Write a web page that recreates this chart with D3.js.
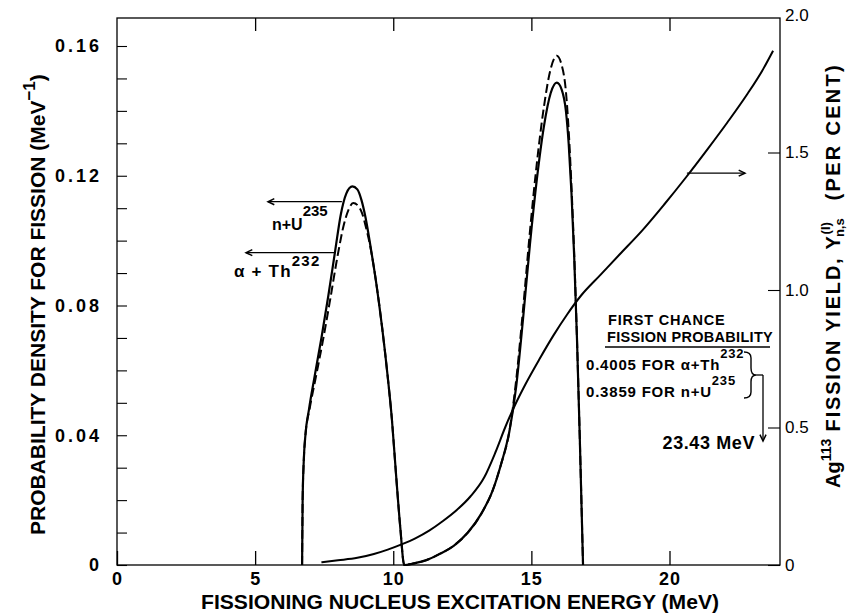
<!DOCTYPE html>
<html><head><meta charset="utf-8">
<script src="https://cdn.jsdelivr.net/npm/d3@7"></script>
<style>
body{margin:0;background:#fff}
text{font-family:"Liberation Sans",Arial,sans-serif;fill:#000}
</style>
</head><body><svg id="c" width="850" height="615"></svg>
<script>
// ---- data ----
const xTickValues = [0, 5, 10, 15, 20];
const leftTickLabels = [0, 0.04, 0.08, 0.12, 0.16];
const leftMinorTicks = [0,0.01,0.02,0.03,0.04,0.05,0.06,0.07,0.08,0.09,0.10,0.11,0.12,0.13,0.14,0.15,0.16];
const rightTickValues = [0, 0.5, 1.0, 1.5, 2.0];

// n + U235 (solid), probability density (MeV^-1)
const nU235_E = [6.70,6.72,6.76,6.82,6.95,7.15,7.40,7.65,7.90,8.10,8.30,8.52,8.70,8.85,9.00,9.20,9.40,9.60,9.80,9.95,10.10,10.25,10.40,
  10.70,11.20,11.70,12.20,12.70,13.20,13.60,13.90,14.20,14.45,14.70,14.95,15.20,15.45,15.70,15.92,16.10,16.25,16.35,16.45,16.55,16.65,16.75,16.87];
const nU235_P = [0,0.020,0.032,0.040,0.048,0.058,0.070,0.083,0.097,0.108,0.1145,0.1167,0.1158,0.1125,0.107,0.097,0.086,0.073,0.058,0.045,0.028,0.012,0,
  0.0004,0.0015,0.0035,0.006,0.010,0.016,0.023,0.031,0.041,0.055,0.076,0.099,0.119,0.135,0.1455,0.1487,0.1465,0.140,0.130,0.115,0.095,0.070,0.040,0];

// alpha + Th232 (dashed)
const aTh232_E = [6.70,6.72,6.76,6.82,6.97,7.20,7.45,7.72,8.00,8.20,8.38,8.55,8.72,8.87,9.00,9.15,9.40,9.60,9.80,9.95,10.10,10.25,10.40,
  10.70,11.20,11.70,12.20,12.70,13.20,13.60,13.90,14.20,14.45,14.70,14.95,15.20,15.45,15.70,15.92,16.10,16.25,16.35,16.45,16.55,16.65,16.75,16.87];
const aTh232_P = [0,0.020,0.032,0.040,0.048,0.058,0.069,0.082,0.096,0.1045,0.1095,0.1116,0.1108,0.1085,0.1045,0.099,0.086,0.073,0.058,0.045,0.028,0.012,0,
  0.0004,0.0015,0.0035,0.006,0.010,0.016,0.023,0.031,0.041,0.057,0.079,0.103,0.124,0.141,0.153,0.157,0.154,0.146,0.134,0.117,0.096,0.070,0.040,0];

// Ag113 fission yield (per cent), right axis
const yield_E = [7.40,8.00,8.70,9.30,9.80,10.30,10.80,11.30,11.80,12.30,12.80,13.30,13.70,14.05,14.40,14.80,15.30,15.80,16.30,16.80,17.50,18.20,19.00,19.80,20.60,21.40,22.10,22.80,23.40,23.75];
const yield_Y = [0.010,0.017,0.026,0.040,0.056,0.075,0.097,0.125,0.160,0.200,0.250,0.320,0.410,0.500,0.580,0.660,0.750,0.835,0.912,0.980,1.055,1.130,1.215,1.310,1.410,1.515,1.610,1.710,1.805,1.870];

// ---- scales ----
const svg = d3.select("#c");
const X0 = 117, X1 = 780, Y0 = 565, YT = 18;
const x = d3.scaleLinear().domain([0, 24]).range([X0, X1]);
const yL = d3.scaleLinear().domain([0, 0.16]).range([Y0, 46]);
const yR = d3.scaleLinear().domain([0, 2]).range([Y0, 15]);
const FONT = "'Liberation Sans',Arial,sans-serif";

// frame
svg.append("rect").attr("x", X0).attr("y", YT).attr("width", X1 - X0).attr("height", Y0 - YT)
  .attr("fill", "none").attr("stroke", "#000").attr("stroke-width", 1.3);

// bottom axis
const gx = svg.append("g").attr("transform", `translate(0,${Y0})`)
  .call(d3.axisBottom(x).tickValues(xTickValues).tickSizeInner(-14).tickSizeOuter(0).tickPadding(7).tickFormat(d3.format("d")));
gx.select(".domain").remove();
gx.selectAll("line").attr("stroke-width", 1.3);
gx.selectAll("text").attr("font-size", 18).attr("font-weight", "bold").attr("letter-spacing", 1).style("font-family", FONT);

// top ticks
const gt = svg.append("g").attr("transform", `translate(0,${YT})`)
  .call(d3.axisTop(x).tickValues(xTickValues.filter(d => d > 0)).tickSizeInner(-13).tickSizeOuter(0).tickFormat(""));
gt.select(".domain").remove();
gt.selectAll("line").attr("stroke-width", 1.3);

// left axis
const gl = svg.append("g").attr("transform", `translate(${X0},0)`)
  .call(d3.axisLeft(yL).tickValues(leftMinorTicks).tickSizeInner(-10).tickSizeOuter(0).tickPadding(15)
    .tickFormat(d => leftTickLabels.some(v => Math.abs(v - d) < 1e-9) ? (d === 0 ? "0" : d3.format(".2f")(d)) : ""));
gl.select(".domain").remove();
gl.selectAll("line").attr("stroke-width", 1.1);
gl.selectAll("text").attr("font-size", 18).attr("font-weight", "bold").attr("letter-spacing", 3).style("font-family", FONT);

// right axis
const gr = svg.append("g").attr("transform", `translate(${X1},0)`)
  .call(d3.axisRight(yR).tickValues(rightTickValues).tickSizeInner(-12).tickSizeOuter(0).tickPadding(5)
    .tickFormat(d => d === 0 ? "0" : d3.format(".1f")(d)));
gr.select(".domain").remove();
gr.selectAll("line").attr("stroke-width", 1.1);
gr.selectAll(".tick").filter(d => d === 2).select("line").remove();
gr.selectAll("text").attr("font-size", 17).style("font-family", FONT);

// curves
const lineL = d3.line().x(d => x(d[0])).y(d => yL(d[1])).curve(d3.curveMonotoneX);
const lineR = d3.line().x(d => x(d[0])).y(d => yR(d[1])).curve(d3.curveMonotoneX);
const zip = (a, b) => a.map((v, i) => [v, b[i]]);

svg.append("path").attr("d", lineL(zip(nU235_E, nU235_P))).attr("fill", "none").attr("stroke", "#000").attr("stroke-width", 2.2);
svg.append("path").attr("d", lineL(zip(aTh232_E, aTh232_P))).attr("fill", "none").attr("stroke", "#000").attr("stroke-width", 2)
  .attr("stroke-dasharray", "9,4");
svg.append("path").attr("d", lineR(zip(yield_E, yield_Y))).attr("fill", "none").attr("stroke", "#000").attr("stroke-width", 2);

// arrow helper
function arrow(x1, y1, x2, y2) {
  svg.append("line").attr("x1", x1).attr("y1", y1).attr("x2", x2).attr("y2", y2).attr("stroke", "#000").attr("stroke-width", 1.3);
  const a = Math.atan2(y2 - y1, x2 - x1), L = 7, w = 0.45;
  svg.append("path").attr("d", `M${x2 - L * Math.cos(a - w)},${y2 - L * Math.sin(a - w)} L${x2},${y2} L${x2 - L * Math.cos(a + w)},${y2 - L * Math.sin(a + w)}`)
    .attr("fill", "none").attr("stroke", "#000").attr("stroke-width", 1.5);
}

// legend arrows
arrow(x(8.14), yL(0.112), 268, yL(0.112));
arrow(x(7.9), yL(0.0963), 246, yL(0.0963));

function sup(base, s, o) {
  const el = svg.append("text").attr("x", o.x).attr("y", o.y).attr("font-size", o.fs).attr("font-weight", "bold");
  if (o.ls) el.attr("letter-spacing", o.ls);
  el.append("tspan").text(base);
  el.append("tspan").attr("dy", -o.up).attr("font-size", o.sfs).text(s);
  return el;
}
sup("n+U", "235", {x: 272, y: 230, fs: 16, sfs: 15, up: 14});
sup("α + Th", "232", {x: 234, y: 277, fs: 17, sfs: 15, up: 11, ls: 1.2});

// yield arrow
arrow(x(20.63), yR(1.425), 745, yR(1.425));

// annotation block
svg.append("text").attr("x", 608).attr("y", 325).attr("font-size", 14.5).attr("font-weight", "bold").attr("letter-spacing", 0.8).text("FIRST CHANCE");
svg.append("text").attr("x", 607).attr("y", 342).attr("font-size", 14.5).attr("font-weight", "bold").attr("letter-spacing", 0.3).text("FISSION PROBABILITY");
svg.append("line").attr("x1", 605).attr("x2", 770).attr("y1", 347).attr("y2", 347).attr("stroke", "#000").attr("stroke-width", 1.3);
sup("0.4005 FOR α+Th", "232", {x: 586, y: 370, fs: 15, sfs: 13, up: 12, ls: 0.8});
sup("0.3859 FOR n+U", "235", {x: 586, y: 397, fs: 15, sfs: 13, up: 12, ls: 0.8});
// brace
svg.append("path").attr("d", "M744,352 Q751,352 751,358 L751,368 Q751,375 756,375 Q751,375 751,382 L751,392 Q751,398 744,398")
  .attr("fill", "none").attr("stroke", "#000").attr("stroke-width", 1.4);
svg.append("path").attr("d", "M756,375 L763,375").attr("stroke", "#000").attr("stroke-width", 1.3);
arrow(763, 375, 763, 441);
svg.append("text").attr("x", 755).attr("y", 449).attr("text-anchor", "end").attr("font-size", 18).attr("font-weight", "bold")
  .attr("letter-spacing", 0.6).text("23.43 MeV");

// axis titles
svg.append("text").attr("x", 460).attr("y", 609).attr("text-anchor", "middle").attr("font-size", 21).attr("font-weight", "bold")
  .attr("textLength", 518).attr("lengthAdjust", "spacingAndGlyphs").text("FISSIONING NUCLEUS EXCITATION ENERGY (MeV)");

const lt = svg.append("text").attr("transform", "translate(45,535) rotate(-90)").attr("font-size", 21).attr("font-weight", "bold");
lt.append("tspan").text("PROBABILITY DENSITY FOR FISSION (MeV");
lt.append("tspan").attr("dy", -10).attr("font-size", 17).text("−1");
lt.append("tspan").attr("dy", 10).text(")");

const rt = svg.append("text").attr("transform", "translate(840,488) rotate(-90)").attr("font-size", 20).attr("font-weight", "bold");
rt.append("tspan").text("Ag");
rt.append("tspan").attr("dy", -9).attr("font-size", 14).text("113");
rt.append("tspan").attr("dy", 9).attr("letter-spacing", 1.8).text(" FISSION YIELD, Y");
rt.append("tspan").attr("dy", -10).attr("font-size", 13).text("(I)");
rt.append("tspan").attr("dy", 14).attr("dx", -15).attr("font-size", 13).text("n,s");
svg.append("text").attr("transform", "translate(840,63) rotate(-90)").attr("text-anchor", "end")
  .attr("font-size", 20).attr("font-weight", "bold").attr("letter-spacing", 2.3).text("(PER CENT)");
</script></body></html>
